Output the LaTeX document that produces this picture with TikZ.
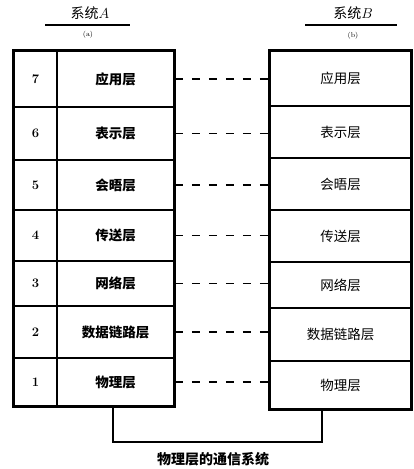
\documentclass[tikz,border=0pt]{standalone}
\usepackage{fontspec}
\newfontfamily\cjk{Noto Sans CJK SC}
\begin{document}
\begin{tikzpicture}[x=1pt,y=-1pt,
  cell/.style={draw, line width=1.8pt, inner sep=0pt, minimum width=#1, anchor=center},
  cjktext/.style={font=\cjk\fontsize{13.5}{15}\selectfont},
  numtext/.style={font=\bfseries\fontsize{13}{15}\selectfont},
  dashline/.style={line width=1.8pt, dash pattern=on 8pt off 9pt},
  frame/.style={line width=2.4pt},
  wire/.style={line width=2pt}]
\useasboundingbox (0,0) rectangle (413,469);
% left stack
\foreach \n/\t/\b/\name in {7/51/107/应用层, 6/107/160/表示层, 5/160/210/会晤层, 4/210/261/传送层, 3/261/306/网络层, 2/306/358/数据链路层, 1/358/406/物理层}{
  \pgfmathsetmacro{\h}{\b-\t}
  \pgfmathsetmacro{\c}{(\t+\b)/2}
  \node[cell=43pt, minimum height=\h pt, numtext] (n\n) at (35.5,\c) {\n};
  \node[cell=117pt, minimum height=\h pt, font=\cjk\bfseries\fontsize{13.5}{15}\selectfont] (l\n) at (115.5,\c) {\name};
}
% right stack
\foreach \n/\t/\b/\name in {7/51/106/应用层, 6/106/158/表示层, 5/158/210/会晤层, 4/210/262/传送层, 3/262/308/网络层, 2/308/361/数据链路层, 1/361/409/物理层}{
  \pgfmathsetmacro{\h}{\b-\t}
  \pgfmathsetmacro{\c}{(\t+\b)/2}
  \node[cell=141pt, minimum height=\h pt, cjktext] (r\n) at (340.5,\c) {\name};
}
\draw[frame] (n7.north west) rectangle (l1.south east);
\draw[frame] (r7.north west) rectangle (r1.south east);
% peer dashed links
\foreach \n in {7,6,5,4,3,2,1}{
  \draw[dashline] (l\n.east) -- (l\n.east -| r\n.west);
}
% titles
\node[font=\cjk\fontsize{14}{16}\selectfont] (ta) at (90,13) {系统$A$};
\coordinate (ua1) at (45,25);
\coordinate (ua2) at (130,25);
\draw[line width=1.6pt] (ua1) -- (ua2);
\node[font=\scriptsize] (sa) at (88,35) {(a)};
\node[font=\cjk\fontsize{14}{16}\selectfont] (tb) at (353,13) {系统$B$};
\coordinate (ub1) at (305,25);
\coordinate (ub2) at (397,25);
\draw[line width=1.6pt] (ub1) -- (ub2);
\node[font=\scriptsize] (sb) at (353,36) {(b)};
% physical medium
\coordinate (cl) at (113,442);
\coordinate (cr) at (322,442);
\draw[wire] (cl |- l1.south) -- (cl) -- (cr) -- (cr |- r1.south);
\node[font=\cjk\bfseries\fontsize{14}{16}\selectfont] (medium) at (213,459) {物理层的通信系统};
\end{tikzpicture}
\end{document}
